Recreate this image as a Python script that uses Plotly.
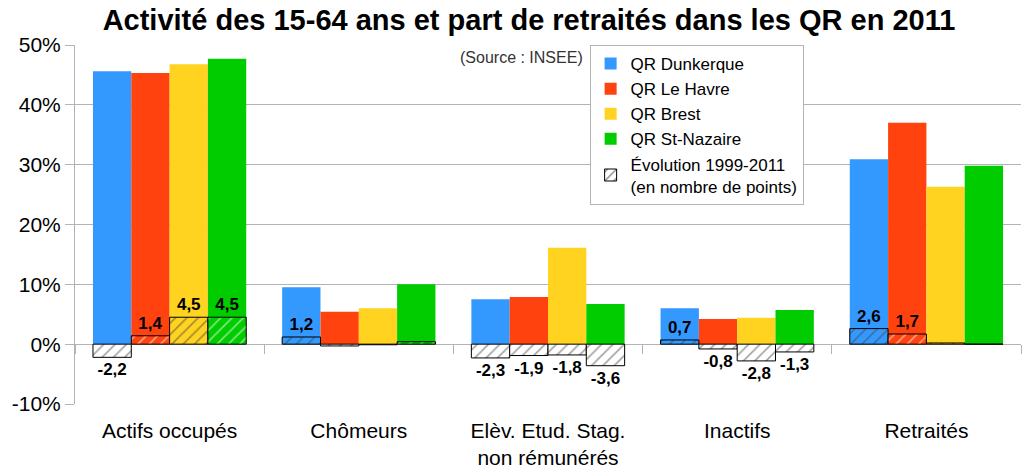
import plotly.graph_objects as go

categories = ["Actifs occupés", "Chômeurs", "Elèv. Etud. Stag.<br>non rémunérés", "Inactifs", "Retraités"]
series_names = ["QR Dunkerque", "QR Le Havre", "QR Brest", "QR St-Nazaire"]
colors = ["#3399ff", "#ff420e", "#ffd320", "#00cc00"]

dunkerque = [45.6, 9.5, 7.5, 6.0, 30.9]
le_havre = [45.3, 5.4, 7.9, 4.2, 37.0]
brest = [46.8, 6.0, 16.1, 4.4, 26.3]
st_nazaire = [47.7, 10.0, 6.7, 5.7, 29.8]

evo_dunkerque = [-2.2, 1.2, -2.3, 0.7, 2.6]
evo_le_havre = [1.4, -0.3, -1.9, -0.8, 1.7]
evo_brest = [4.5, -0.1, -1.8, -2.8, 0.2]
evo_st_nazaire = [4.5, 0.4, -3.6, -1.3, 0.0]

y_ticks = [-10, 0, 10, 20, 30, 40, 50]
y_tick_labels = [f"{v}%" for v in y_ticks]

values = [dunkerque, le_havre, brest, st_nazaire]
evolutions = [evo_dunkerque, evo_le_havre, evo_brest, evo_st_nazaire]

fig = go.Figure()
for name, col, vals in zip(series_names, colors, values):
    fig.add_trace(go.Bar(x=categories, y=vals, name=name, marker=dict(color=col, line=dict(width=0)),
                         xaxis="x", yaxis="y", legendrank=1))

for i, (col, ev) in enumerate(zip(colors, evolutions)):
    fill = [col if v > 0 else "#ffffff" for v in ev]
    txt = [f"{v:.1f}".replace(".", ",") if abs(v) >= 0.5 else "" for v in ev]
    fig.add_trace(go.Bar(
        x=categories, y=ev, xaxis="x2", yaxis="y",
        name="Évolution 1999-2011<br>(en nombre de points)",
        showlegend=(i == 0), legendrank=2,
        marker=dict(color=fill, line=dict(color="#000000", width=1),
                    pattern=dict(shape="/", fgcolor="#000000", size=8, solidity=0.2)),
        text=txt, textposition="outside", constraintext="none", cliponaxis=False,
        textfont=dict(family="Liberation Sans", size=17, color="#000000", weight="bold"),
    ))

fig.update_layout(
    width=1024, height=474,
    margin=dict(l=75, r=3, t=45, b=70, autoexpand=False),
    paper_bgcolor="#ffffff", plot_bgcolor="#ffffff",
    barmode="group", bargap=0.19, bargroupgap=0,
    font=dict(family="Liberation Sans", color="#000000"),
    title=dict(text="<b>Activité des 15-64 ans et part de retraités dans les QR en 2011</b>",
               font=dict(family="Liberation Sans", size=29, color="#000000"),
               xref="container", x=0.5166, xanchor="center", yref="container", y=0.958, yanchor="middle"),
    yaxis=dict(range=[-10, 50], tickvals=y_ticks, ticktext=y_tick_labels, showgrid=True, gridcolor="#b3b3b3",
               gridwidth=1, zeroline=False, showline=True, linecolor="#b3b3b3", ticks="outside",
               ticklen=9, tickcolor="#b3b3b3", tickfont=dict(size=21, color="#000000"), automargin=False),
    xaxis=dict(showgrid=False, showline=False, ticks="", tickfont=dict(size=21, color="#000000"),
               ticklabelstandoff=12, automargin=False),
    xaxis2=dict(overlaying="x", anchor="free", position=1/6, side="bottom", matches="x",
                showgrid=False, showline=False, showticklabels=False, ticks="outside",
                tickson="boundaries", ticklen=9, tickcolor="#b3b3b3", automargin=False),
    legend=dict(x=0.544, y=1.0, xanchor="left", yanchor="top", bgcolor="#ffffff",
                bordercolor="#b3b3b3", borderwidth=1, font=dict(size=17, color="#000000"),
                traceorder="normal", itemwidth=30, tracegroupgap=0),
    annotations=[dict(text="(Source : INSEE)", xref="paper", yref="paper", x=0.539, y=0.964,
                      xanchor="right", yanchor="middle", showarrow=False,
                      font=dict(size=16, color="#333333"))],
)

fig.write_html("out.html", config={"displayModeBar": False},
               post_script="document.body.style.margin='0';document.body.style.overflow='hidden';")
